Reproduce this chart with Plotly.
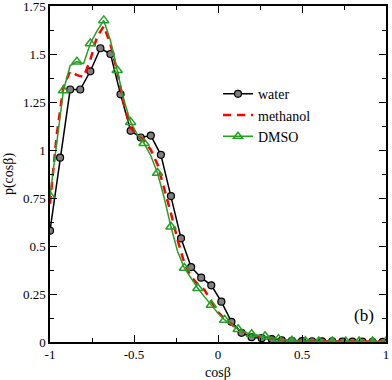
import plotly.graph_objects as go

# water: one point every 0.06, all with markers
water_x = [-1.0, -0.94, -0.88, -0.82, -0.76, -0.70, -0.64, -0.58, -0.52, -0.46,
           -0.40, -0.34, -0.28, -0.22, -0.16, -0.10, -0.04, 0.02, 0.08, 0.14,
           0.20, 0.26, 0.32, 0.38, 0.44, 0.50, 0.56, 0.62, 0.68, 0.74,
           0.80, 0.86, 0.92, 0.98]
water_y = [0.58, 0.96, 1.315, 1.315, 1.41, 1.53, 1.50, 1.29, 1.10, 1.065,
           1.075, 0.975, 0.76, 0.54, 0.39, 0.335, 0.295, 0.21, 0.105, 0.048,
           0.025, 0.02, 0.015, 0.008, 0.006, 0.005, 0.004, 0.003, 0.003, 0.002,
           0.002, 0.002, 0.001, 0.001]

# methanol and DMSO curves: one point every 0.04
fine_x = [-1.0, -0.96, -0.92, -0.88, -0.84, -0.80, -0.76, -0.72, -0.68, -0.64,
          -0.60, -0.56, -0.52, -0.48, -0.44, -0.40, -0.36, -0.32, -0.28, -0.24,
          -0.20, -0.16, -0.12, -0.08, -0.04, 0.0, 0.04, 0.08, 0.12, 0.16,
          0.20, 0.24, 0.28, 0.32, 0.36, 0.40, 0.44, 0.48, 0.52, 0.56,
          0.60, 0.64, 0.68, 0.72, 0.76, 0.80, 0.84, 0.88, 0.92, 0.96, 1.0]
methanol_y = [0.72, 1.08, 1.33, 1.41, 1.39, 1.38, 1.47, 1.59, 1.645, 1.55,
              1.41, 1.24, 1.115, 1.075, 1.05, 1.00, 0.925, 0.80, 0.67, 0.53,
              0.41, 0.34, 0.30, 0.27, 0.21, 0.155, 0.12, 0.09, 0.065, 0.05,
              0.035, 0.03, 0.025, 0.018, 0.012, 0.008, 0.006, 0.005, 0.004, 0.004,
              0.003, 0.003, 0.003, 0.003, 0.002, 0.002, 0.002, 0.002, 0.002, 0.002, 0.002]
dmso_y = [0.76, 1.05, 1.31, 1.44, 1.46, 1.45, 1.555, 1.62, 1.675, 1.57,
          1.415, 1.26, 1.145, 1.08, 1.035, 0.97, 0.88, 0.75, 0.60, 0.47,
          0.385, 0.33, 0.28, 0.235, 0.193, 0.15, 0.115, 0.09, 0.066, 0.05,
          0.04, 0.035, 0.03, 0.022, 0.015, 0.01, 0.006, 0.005, 0.004, 0.004,
          0.003, 0.003, 0.003, 0.003, 0.003, 0.003, 0.003, 0.003, 0.003, 0.003, 0.003]

# DMSO triangles only on every other point
dmso_mx = fine_x[::2]
dmso_my = dmso_y[::2]

FONT = "Liberation Serif, Times New Roman, serif"
GREEN = "#25a025"


def main():
    fig = go.Figure()

    fig.add_trace(go.Scatter(
        x=water_x, y=water_y, mode="lines+markers", name="water",
        line=dict(color="black", width=1.5),
        marker=dict(symbol="circle", size=7, color="#7f7f7f",
                    line=dict(color="black", width=1.2)),
    ))
    fig.add_trace(go.Scatter(
        x=fine_x, y=methanol_y, mode="lines", name="methanol",
        line=dict(color="#ff0000", width=2.5, dash="8px,6px"),
    ))
    fig.add_trace(go.Scatter(
        x=fine_x, y=dmso_y, mode="lines", showlegend=False,
        line=dict(color=GREEN, width=1.5),
    ))
    fig.add_trace(go.Scatter(
        x=dmso_mx, y=dmso_my, mode="markers", showlegend=False,
        marker=dict(symbol="triangle-up-open", size=9, color=GREEN,
                    line=dict(width=1.5)),
    ))
    # legend entry for DMSO
    fig.add_trace(go.Scatter(
        x=[None], y=[None], mode="lines+markers", name="DMSO",
        line=dict(color=GREEN, width=1.5),
        marker=dict(symbol="triangle-up-open", size=8, color=GREEN,
                    line=dict(width=1.5)),
    ))

    axis_common = dict(
        showline=True, linecolor="black", linewidth=1.5, mirror="allticks",
        ticks="inside", ticklen=7, tickwidth=1.2, tickcolor="black",
        showgrid=False, zeroline=False, automargin=False,
        ticklabeloverflow="allow",
        tickfont=dict(family=FONT, size=13, color="black"),
    )

    fig.update_xaxes(
        range=[-1, 1], tickmode="array", tickvals=[-1, -0.5, 0, 0.5, 1],
        ticktext=["-1", "-0.5", "0", "0.5", "1"],
        minor=dict(ticks="inside", ticklen=4, dtick=0.25, tickcolor="black"),
        title=dict(text="cosβ", font=dict(family=FONT, size=14, color="black"),
                   standoff=8),
        **axis_common,
    )
    fig.update_yaxes(
        range=[0, 1.75], tickmode="array",
        tickvals=[0, 0.25, 0.5, 0.75, 1, 1.25, 1.5, 1.75],
        ticktext=["0", "0.25", "0.5", "0.75", "1", "1.25", "1.5", "1.75"],
        minor=dict(ticks="inside", ticklen=4, dtick=0.125, tickcolor="black"),
        title=dict(text="p(cosβ)", font=dict(family=FONT, size=14, color="black"),
                   standoff=6),
        **axis_common,
    )

    fig.add_annotation(
        x=0.935, y=0.08, xref="paper", yref="paper", text="(b)", showarrow=False,
        xanchor="center", yanchor="middle",
        font=dict(family=FONT, size=17, color="black"),
    )

    fig.update_layout(
        width=392, height=380,
        margin=dict(l=50, r=6, t=6, b=38),
        plot_bgcolor="white", paper_bgcolor="white",
        font=dict(family=FONT, size=14, color="black"),
        legend=dict(x=0.5, y=0.785, xanchor="left", yanchor="top",
                    bgcolor="rgba(0,0,0,0)", borderwidth=0,
                    font=dict(family=FONT, size=14, color="black"),
                    itemwidth=30, tracegroupgap=0),
    )

    fig.write_html(
        "out.html",
        config={"displayModeBar": False},
        post_script="document.body.style.margin='0';document.body.style.overflow='hidden';",
    )


if __name__ == '__main__':
    main()
